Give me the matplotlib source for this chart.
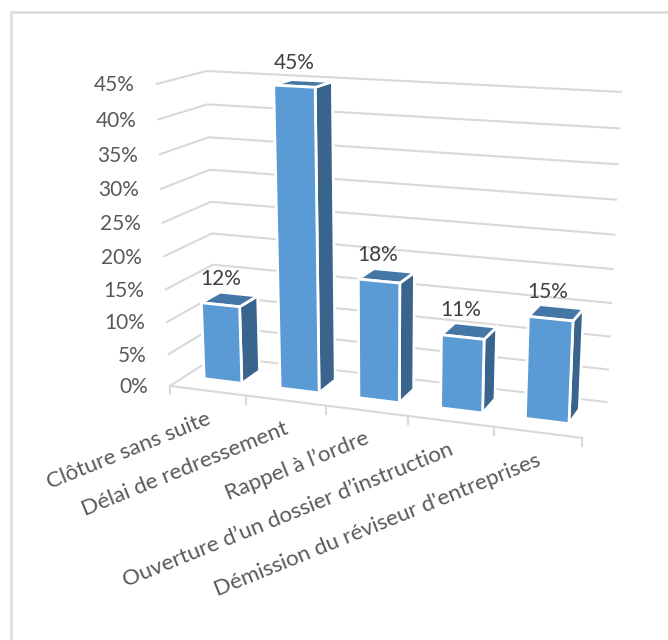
import numpy as np
import matplotlib
matplotlib.use("Agg")
import matplotlib.pyplot as plt

plt.rcParams['font.family'] = ['Lato', 'DejaVu Sans']

categories = ["Clôture sans suite", "Délai de redressement", "Rappel à l’ordre",
              "Ouverture d’un dossier d’instruction", "Démission du réviseur d'entreprises"]
values = [12, 45, 18, 11, 15]
value_ticks = [0, 5, 10, 15, 20, 25, 30, 35, 40, 45]

FRONT = '#5B9BD5'
SIDE = '#38648E'
TOP = '#4477A6'
GRID = '#D9D9D9'

# corners of the plot box: (category, depth, value) -> pixel, used to fit the perspective
box_world = np.array([[0, 0, 0], [0, 1, 0], [5, 1, 0], [5, 0, 0],
                      [0, 0, 45], [0, 1, 45], [5, 1, 45]], float)
box_pixel = np.array([[170, 384], [216, 358], [606, 401], [583, 439],
                      [156, 85], [207, 70], [621, 92]], float)


def fit_camera(world, pixel):
    rows = []
    for (x, y, z), (u, v) in zip(world, pixel):
        rows.append([x, y, z, 1, 0, 0, 0, 0, -u*x, -u*y, -u*z, -u])
        rows.append([0, 0, 0, 0, x, y, z, 1, -v*x, -v*y, -v*z, -v])
    return np.linalg.svd(np.array(rows))[2][-1].reshape(3, 4)


camera = fit_camera(box_world, box_pixel)


def project(cat, depth, val):
    p = camera @ np.array([cat, depth, val, 1.0])
    return p[0] / p[2], p[1] / p[2]


fig = plt.figure(figsize=(6.68, 6.4), dpi=100)
ax = fig.add_axes([0, 0, 1, 1])
ax.set_xlim(0, 668)
ax.set_ylim(640, 0)
ax.axis('off')

# chart frame, only the top and left edges show
ax.plot([11, 11, 668], [640, 12, 12], color='#DCDCDC', lw=1.8, solid_joinstyle='miter')

# walls
for t in value_ticks:
    pts = [project(0, 0, t), project(0, 1, t), project(5, 1, t)]
    ax.plot(*zip(*pts), color=GRID, lw=1.5, zorder=1)
    x, y = project(0, 0, t)
    ax.text(x - 22, y + 1.5, f"{t}%", ha='right', va='center', fontsize=15, color='#595959')

# floor front edge and ticks
ax.plot(*zip(project(0, 0, 0), project(5, 0, 0)), color=GRID, lw=1.5, zorder=1)
for i in range(6):
    x, y = project(i, 0, 0)
    ax.plot([x, x], [y, y + 8], color=GRID, lw=1.5, zorder=1)

gap_left, gap_right = 0.26, 0.24
d0, d1 = 0.31, 0.72
for i, val in enumerate(values):
    a, b = i + gap_left, i + 1 - gap_right
    side = [project(b, d0, 0), project(b, d1, 0), project(b, d1, val), project(b, d0, val)]
    top = [project(a, d0, val), project(b, d0, val), project(b, d1, val), project(a, d1, val)]
    front = [project(a, d0, 0), project(b, d0, 0), project(b, d0, val), project(a, d0, val)]
    for poly, col in ((side, SIDE), (top, TOP), (front, FRONT)):
        ax.fill(*zip(*poly), facecolor=col, edgecolor='white', lw=2, joinstyle='miter', zorder=3)
    x, y = project(i + 0.5, 0.5, val)
    ax.text(x - 7.5, y - 11, f"{val}%", ha='center', va='bottom', fontsize=15, color='#404040', zorder=4)

# category labels hang from the middle of each floor slot
for i, name in enumerate(categories):
    x, y = project(i + 0.5, 0, 0)
    ax.text(x + 2, y + 27, name, ha='right', va='center', rotation=22, rotation_mode='anchor',
            fontsize=16, color='#595959')

fig.savefig('out.png', dpi=100)
